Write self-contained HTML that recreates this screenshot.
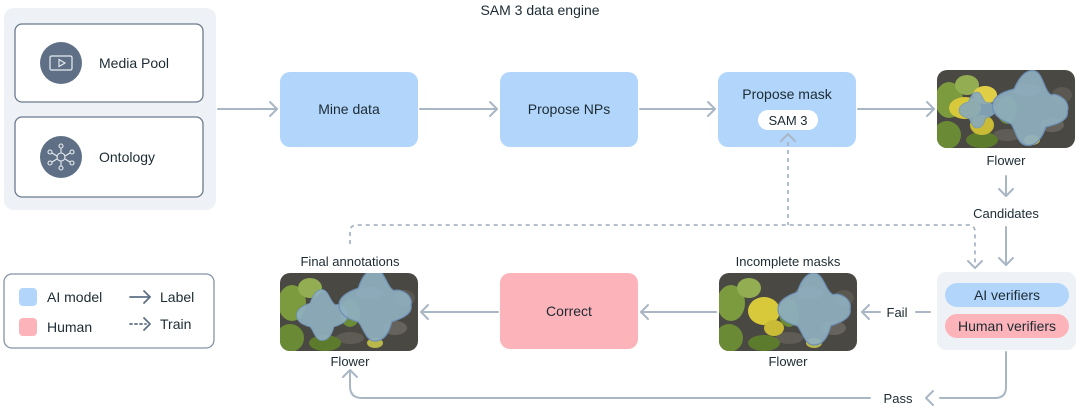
<!DOCTYPE html>
<html><head><meta charset="utf-8"><style>
html,body{margin:0;padding:0;background:#fff;}
svg{display:block;font-family:"Liberation Sans",sans-serif;}
</style></head><body>
<svg width="1080" height="410" viewBox="0 0 1080 410" xmlns="http://www.w3.org/2000/svg">
<defs>
<clipPath id="c1"><rect x="0" y="0" width="138" height="78" rx="10"/></clipPath>
<g id="base">
  <rect x="0" y="0" width="138" height="78" fill="#4a4842"/>
  <ellipse cx="90" cy="20" rx="14" ry="6" fill="#6d6a62"/>
  <ellipse cx="115" cy="55" rx="12" ry="7" fill="#66635c"/>
  <ellipse cx="70" cy="65" rx="14" ry="6" fill="#5f5c55"/>
  <ellipse cx="125" cy="25" rx="10" ry="8" fill="#5a5851"/>
  <ellipse cx="12" cy="30" rx="14" ry="18" fill="#7c9a3e"/>
  <ellipse cx="10" cy="65" rx="14" ry="14" fill="#6a8a35"/>
  <ellipse cx="30" cy="15" rx="12" ry="10" fill="#93ad52"/>
  <ellipse cx="45" cy="70" rx="16" ry="8" fill="#5d7b2c"/>
  <ellipse cx="70" cy="40" rx="10" ry="14" fill="#6b8c36"/>
  <ellipse cx="95" cy="70" rx="8" ry="5" fill="#b9b84a"/>
</g>
<path id="star" d="M0,-30 C8,-30 10,-14 16,-12 C22,-14 32,-8 30,0 C32,8 20,12 14,14 C12,22 8,30 0,30 C-8,30 -10,18 -14,14 C-22,12 -30,8 -30,0 C-30,-8 -20,-12 -14,-14 C-12,-20 -8,-30 0,-30Z"/>
</defs>

<text x="540" y="15" text-anchor="middle" font-size="14" fill="#1c2b33">SAM 3 data engine</text>

<!-- left panel -->
<rect x="4" y="8" width="212" height="202" rx="10" fill="#eef2f6"/>
<rect x="15" y="24" width="188" height="78" rx="7" fill="#fff" stroke="#6b7a8c" stroke-width="1.3"/>
<rect x="15" y="117" width="188" height="80" rx="7" fill="#fff" stroke="#6b7a8c" stroke-width="1.3"/>
<circle cx="61" cy="63" r="21" fill="#5f7086"/>
<rect x="50" y="56" width="22" height="14" rx="1.5" fill="none" stroke="#e8edf2" stroke-width="1.2"/>
<path d="M59,59.5 L65,63 L59,66.5Z" fill="none" stroke="#e8edf2" stroke-width="1.1"/>
<circle cx="61" cy="157" r="21" fill="#5f7086"/>
<g stroke="#e8edf2" stroke-width="1.1" fill="none">
<circle cx="61" cy="157" r="4"/>
<line x1="61" y1="153" x2="61" y2="148"/><circle cx="61" cy="146" r="2"/>
<line x1="61" y1="161" x2="61" y2="166"/><circle cx="61" cy="168" r="2"/>
<line x1="57" y1="156" x2="52" y2="153"/><circle cx="50" cy="152" r="2"/>
<line x1="65" y1="156" x2="70" y2="153"/><circle cx="72" cy="152" r="2"/>
<line x1="57" y1="159" x2="52" y2="162"/><circle cx="50" cy="163" r="2"/>
<line x1="65" y1="159" x2="70" y2="162"/><circle cx="72" cy="163" r="2"/>
</g>
<text x="99" y="68" font-size="14" fill="#1c2b33">Media Pool</text>
<text x="99" y="162" font-size="14" fill="#1c2b33">Ontology</text>

<!-- top boxes -->
<rect x="280" y="72" width="138" height="75" rx="10" fill="#b2d6fb"/>
<text x="349" y="114" text-anchor="middle" font-size="14" fill="#1c2b33">Mine data</text>
<rect x="500" y="72" width="138" height="75" rx="10" fill="#b2d6fb"/>
<text x="569" y="114" text-anchor="middle" font-size="14" fill="#1c2b33">Propose NPs</text>
<rect x="718" y="72" width="138" height="75" rx="10" fill="#b2d6fb"/>
<text x="787" y="99" text-anchor="middle" font-size="14" fill="#1c2b33">Propose mask</text>
<rect x="758" y="110" width="60" height="20" rx="10" fill="#fff"/>
<text x="788" y="125" text-anchor="middle" font-size="13" fill="#1c2b33">SAM 3</text>

<!-- arrows -->
<g stroke="#a9b6c4" stroke-width="2" fill="none" stroke-linecap="round" stroke-linejoin="round">
<line x1="218" y1="109" x2="277" y2="109"/><path d="M270,102 L277,109 L270,116"/>
<line x1="420" y1="109" x2="497" y2="109"/><path d="M490,102 L497,109 L490,116"/>
<line x1="640" y1="109" x2="715" y2="109"/><path d="M708,102 L715,109 L708,116"/>
<line x1="858" y1="109" x2="934" y2="109"/><path d="M927,102 L934,109 L927,116"/>
<line x1="1006" y1="176" x2="1006" y2="196"/><path d="M999,189 L1006,196 L1013,189"/>
<line x1="1006" y1="227" x2="1006" y2="265"/><path d="M999,258 L1006,265 L1013,258"/>
<line x1="930" y1="312" x2="916" y2="312"/><path d="M869,305 L862,312 L869,319"/>
<line x1="862" y1="312" x2="880" y2="312"/>
<line x1="716" y1="312" x2="641" y2="312"/><path d="M648,305 L641,312 L648,319"/>
<line x1="498" y1="312" x2="421" y2="312"/><path d="M428,305 L421,312 L428,319"/>
<path d="M1006,352 L1006,387 Q1006,398 995,398 L940,398"/>
<path d="M933,391 L926,398 L933,405"/>
<path d="M870,398 L362,398 Q350,398 350,386 L350,370"/>
<path d="M343,377 L350,370 L357,377"/>
</g>
<g stroke="#a9b6c4" stroke-width="1.8" fill="none" stroke-dasharray="4,4">
<path d="M788,142 L788,225"/>
<path d="M350,244 L350,232 Q350,225 357,225 L968,225 Q975,225 975,232 L975,266"/>
</g>
<g stroke="#a9b6c4" stroke-width="2" fill="none" stroke-linecap="round" stroke-linejoin="round">
<path d="M781,141 L788,134 L795,141"/>
<path d="M968,261 L975,268 L982,261"/>
</g>

<!-- photo 1 -->
<g transform="translate(937,70)"><g clip-path="url(#c1)"><use href="#base"/>
<ellipse cx="28" cy="38" rx="16" ry="11" fill="#d8c93a"/>
<ellipse cx="45" cy="55" rx="12" ry="10" fill="#c9bb35"/>
<ellipse cx="48" cy="25" rx="12" ry="9" fill="#e0cf46"/>
<use href="#star" transform="translate(40,40) scale(0.6)" fill="#86a9be" fill-opacity="0.9" stroke="#6d8fb5"/>
<use href="#star" transform="translate(93,38) rotate(5) scale(1.25)" fill="#8fb0c0" fill-opacity="0.92" stroke="#6d8fb5"/>
</g></g>
<text x="1006" y="165" text-anchor="middle" font-size="13" fill="#1c2b33">Flower</text>
<text x="1006" y="218" text-anchor="middle" font-size="13" fill="#1c2b33">Candidates</text>

<!-- verifiers -->
<rect x="937" y="272" width="139" height="78" rx="9" fill="#eef2f6"/>
<rect x="945" y="283" width="124" height="24" rx="12" fill="#b2d6fb"/>
<text x="1007" y="300" text-anchor="middle" font-size="14" fill="#1c2b33">AI verifiers</text>
<rect x="945" y="314" width="124" height="24" rx="12" fill="#fcb3b9"/>
<text x="1007" y="331" text-anchor="middle" font-size="14" fill="#1c2b33">Human verifiers</text>
<text x="897" y="317" text-anchor="middle" font-size="13" fill="#1c2b33">Fail</text>
<text x="898" y="403" text-anchor="middle" font-size="13" fill="#1c2b33">Pass</text>

<!-- incomplete -->
<text x="788" y="266" text-anchor="middle" font-size="13" fill="#1c2b33">Incomplete masks</text>
<g transform="translate(719,273)"><g clip-path="url(#c1)"><use href="#base"/>
<ellipse cx="45" cy="38" rx="16" ry="14" fill="#d8c93a"/>
<ellipse cx="55" cy="55" rx="10" ry="8" fill="#c9bb35"/>
<use href="#star" transform="translate(95,36) scale(1.2)" fill="#8fb0c0" fill-opacity="0.92" stroke="#6d8fb5"/>
</g></g>
<text x="788" y="366" text-anchor="middle" font-size="13" fill="#1c2b33">Flower</text>

<rect x="500" y="273" width="138" height="76" rx="10" fill="#fcb3b9"/>
<text x="569" y="316" text-anchor="middle" font-size="14" fill="#1c2b33">Correct</text>

<!-- final -->
<text x="350" y="266" text-anchor="middle" font-size="13" fill="#1c2b33">Final annotations</text>
<g transform="translate(280,273)"><g clip-path="url(#c1)"><use href="#base"/>
<use href="#star" transform="translate(42,42) scale(0.85)" fill="#8fb0c0" fill-opacity="0.92" stroke="#6d8fb5"/>
<use href="#star" transform="translate(95,32) scale(1.2)" fill="#8fb0c0" fill-opacity="0.92" stroke="#6d8fb5"/>
</g></g>
<text x="350" y="366" text-anchor="middle" font-size="13" fill="#1c2b33">Flower</text>

<!-- legend -->
<rect x="4" y="274" width="210" height="74" rx="8" fill="#fff" stroke="#8593a3" stroke-width="1.3"/>
<rect x="19" y="288" width="18" height="18" rx="4" fill="#b2d6fb"/>
<rect x="19" y="318" width="18" height="18" rx="4" fill="#fcb3b9"/>
<text x="47" y="302" font-size="14" fill="#1c2b33">AI model</text>
<text x="47" y="332" font-size="14" fill="#1c2b33">Human</text>
<g stroke="#5f7086" stroke-width="1.8" fill="none" stroke-linecap="round" stroke-linejoin="round">
<line x1="130" y1="297" x2="150" y2="297"/><path d="M144,291 L150,297 L144,303"/>
<line x1="130" y1="324" x2="146" y2="324" stroke-dasharray="2,3"/><path d="M144,318 L150,324 L144,330"/>
</g>
<text x="160" y="302" font-size="14" fill="#1c2b33">Label</text>
<text x="160" y="329" font-size="14" fill="#1c2b33">Train</text>
</svg>
</body></html>
